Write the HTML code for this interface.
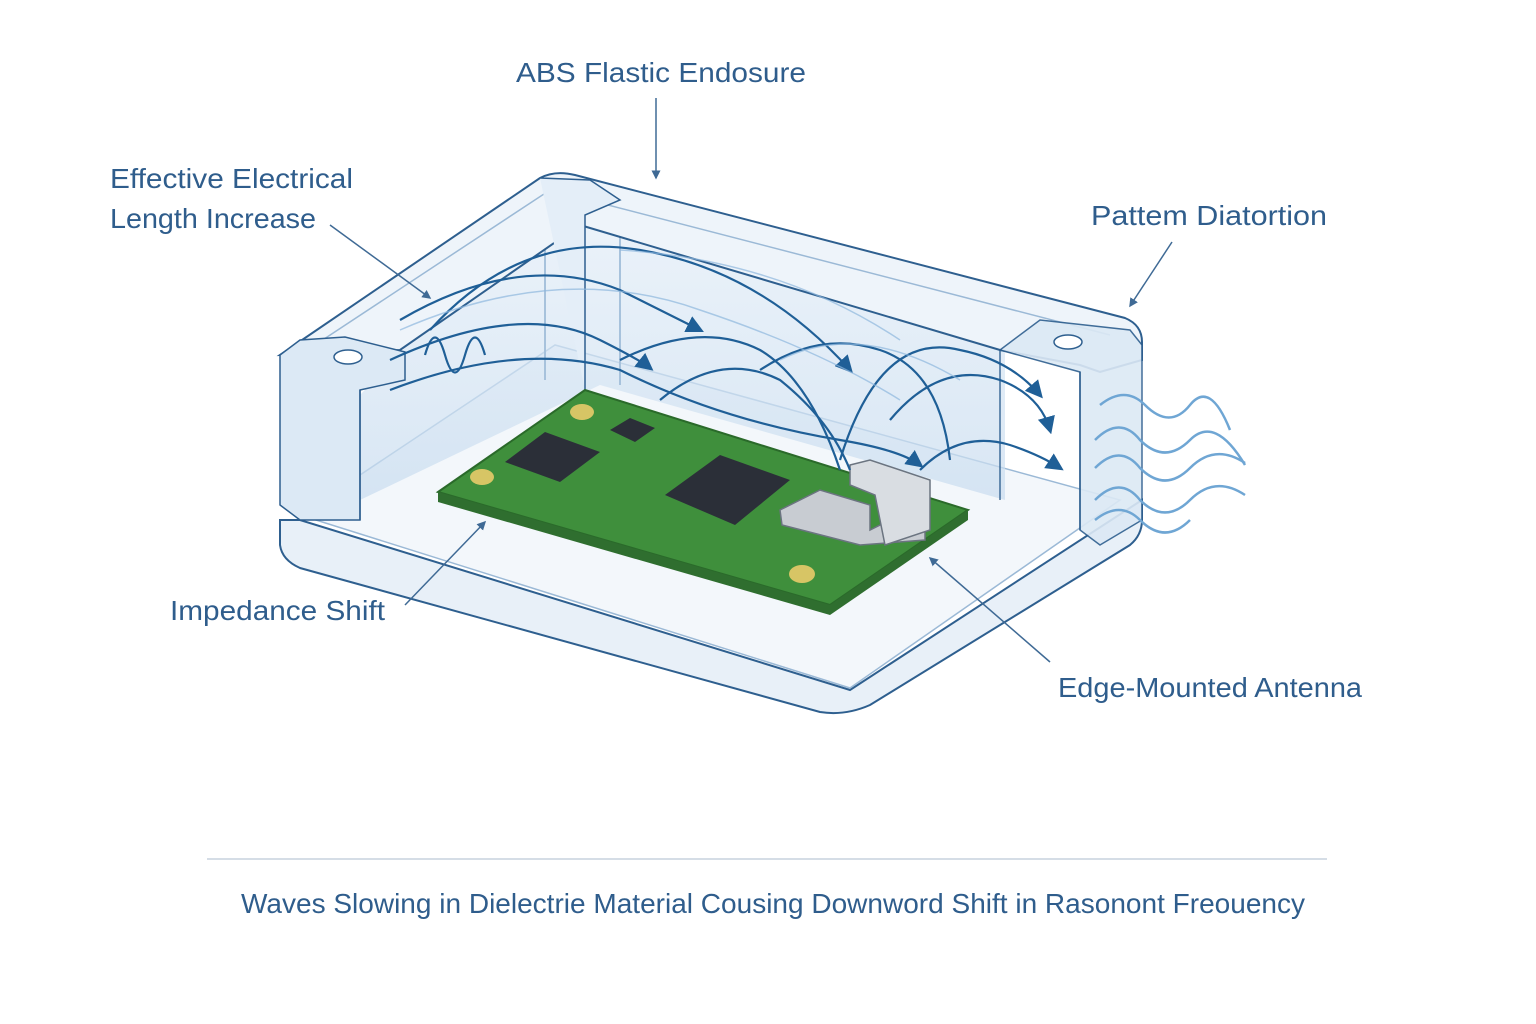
<!DOCTYPE html>
<html><head><meta charset="utf-8"><style>
html,body{margin:0;padding:0;background:#fff;}
svg{display:block}
text{font-family:"Liberation Sans","DejaVu Sans",sans-serif;fill:#2f5d8c;}
</style></head><body>
<svg width="1536" height="1024" viewBox="0 0 1536 1024" xmlns="http://www.w3.org/2000/svg">
<defs>
<linearGradient id="wall" x1="0" y1="0" x2="0" y2="1"><stop offset="0" stop-color="#e4eef8"/><stop offset="1" stop-color="#c8dcef"/></linearGradient>
<marker id="ah" markerWidth="8" markerHeight="8" refX="6" refY="4" orient="auto" markerUnits="strokeWidth"><path d="M0,0 L8,4 L0,8 z" fill="#1f5f97"/></marker>
<marker id="ah2" markerWidth="6" markerHeight="6" refX="5" refY="3" orient="auto" markerUnits="strokeWidth"><path d="M0,0 L6,3 L0,6 z" fill="#3f6a95"/></marker>
</defs>
<path d="M280,520 L280,545 Q282,560 300,568 L820,712 Q845,716 870,705 L1130,545 Q1142,535 1142,520 L1142,500 L850,690 L300,520 Z" fill="#e8f0f8" stroke="#2e5f8f" stroke-width="2"/>
<path d="M300,515 L555,345 L1120,500 L850,688 Z" fill="#f3f7fb" stroke="#9bb9d6" stroke-width="1.5"/>
<path d="M360,395 L545,200 L1005,335 L1005,500 L600,385 L360,500 Z" fill="url(#wall)" opacity="0.7"/>
<path d="M545,200 L545,380" stroke="#a7c2dc" stroke-width="2"/>
<path d="M620,200 L620,385" stroke="#a7c2dc" stroke-width="2"/>
<path d="M280,355 L540,178 Q555,170 575,175 L1125,318 Q1142,325 1142,342 L1142,360 L1100,372 L1080,365 L1000,350 L580,225 L400,350 L360,352 Z" fill="#eef4fa" stroke="#2e5f8f" stroke-width="2"/>
<path d="M315,345 L550,190 L1110,335" fill="none" stroke="#9bb9d6" stroke-width="1.5"/>
<path d="M280,355 L300,340 L345,337 L405,352 L405,380 L360,390 L360,520 L300,520 L280,505 Z" fill="#dce9f5" stroke="#2e5f8f" stroke-width="1.5"/>
<ellipse cx="348" cy="357" rx="14" ry="7" fill="#fff" stroke="#2e5f8f" stroke-width="1.5"/>
<line x1="360" y1="390" x2="360" y2="520" stroke="#2e5f8f" stroke-width="1.5"/>
<path d="M540,178 L590,180 L620,200 L585,215 L585,390" fill="#e4eef8" stroke="#2e5f8f" stroke-width="1.5"/>
<path d="M1000,350 L1040,320 L1130,330 L1142,345 L1142,520 L1100,545 L1080,530 L1080,372 L1000,350 L1000,500" fill="#dce9f5" stroke="#2e5f8f" stroke-width="1.5" opacity="0.9"/>
<ellipse cx="1068" cy="342" rx="14" ry="7" fill="#fff" stroke="#2e5f8f" stroke-width="1.5"/>
<line x1="1080" y1="372" x2="1080" y2="530" stroke="#2e5f8f" stroke-width="1.5"/>
<path d="M438,492 L585,390 L968,510 L830,605 Z" fill="#3f8f3c" stroke="#2a6a2a" stroke-width="2"/>
<path d="M438,492 L438,502 L830,615 L968,520 L968,510 L830,605 Z" fill="#2f6e2f"/>
<path d="M505,462 L545,432 L600,452 L560,482 Z" fill="#2b2f38"/>
<path d="M665,495 L720,455 L790,480 L735,525 Z" fill="#2b2f38"/>
<path d="M610,430 L630,418 L655,428 L635,442 Z" fill="#2b2f38"/>
<ellipse cx="582" cy="412" rx="12" ry="8" fill="#d7c565"/>
<ellipse cx="482" cy="477" rx="12" ry="8" fill="#d7c565"/>
<ellipse cx="802" cy="574" rx="13" ry="9" fill="#d7c565"/>
<path d="M780,510 L820,490 L870,505 L870,530 L900,515 L925,520 L925,540 L860,545 L782,525 Z" fill="#c8ccd2" stroke="#6b7480" stroke-width="1.5"/>
<path d="M850,465 L870,460 L930,480 L930,530 L885,545 L875,495 L850,485 Z" fill="#d9dde2" stroke="#6b7480" stroke-width="1.5"/>
<g fill="none" stroke="#1f5f97" stroke-width="2.2">
<path d="M400,320 Q520,250 620,290 Q660,310 700,330" marker-end="url(#ah)"/>
<path d="M390,360 Q520,300 600,340 Q640,360 650,368" marker-end="url(#ah)"/>
<path d="M390,390 Q520,340 620,370 Q720,420 840,440 Q900,450 920,465" marker-end="url(#ah)"/>
<path d="M430,330 Q520,230 640,250 Q760,270 850,370" marker-end="url(#ah)"/>
<path d="M620,360 Q700,320 760,350 Q810,380 840,470" />
<path d="M660,400 Q720,350 780,380 Q830,420 850,470"/>
<path d="M760,370 Q820,330 880,350 Q940,370 950,460"/>
<path d="M840,460 Q880,330 960,350 Q1010,360 1040,395" marker-end="url(#ah)"/>
<path d="M890,420 Q940,360 1000,380 Q1040,395 1050,430" marker-end="url(#ah)"/>
<path d="M920,470 Q960,430 1010,445 Q1040,455 1060,468" marker-end="url(#ah)"/>
<path d="M425,355 q10,-35 20,0 q10,35 20,0 q10,-35 20,0"/>
</g>
<g fill="none" stroke="#8fb8de" stroke-width="1.5" opacity="0.7">
<path d="M400,330 Q560,260 700,310 Q820,350 900,400"/>
<path d="M620,250 Q780,260 900,340"/>
<path d="M780,360 Q860,320 960,380"/>
</g>
<g fill="none" stroke="#6fa6d4" stroke-width="2.5">
<path d="M1100,405 q25,-20 45,0 q25,25 45,0 q20,-25 40,25"/>
<path d="M1095,440 q25,-25 45,0 q25,25 50,0 q25,-25 55,25"/>
<path d="M1095,468 q25,-25 45,0 q25,25 50,0 q25,-25 55,-5"/>
<path d="M1095,500 q25,-25 45,0 q25,25 50,0 q25,-25 55,-5"/>
<path d="M1095,520 q25,-20 45,0 q25,25 50,0"/>
</g>
<g stroke="#3f6a95" stroke-width="1.5" fill="none">
<path d="M656,98 L656,178" marker-end="url(#ah2)"/>
<path d="M330,225 L430,298" marker-end="url(#ah2)"/>
<path d="M1172,242 L1130,306" marker-end="url(#ah2)"/>
<path d="M405,605 L485,522" marker-end="url(#ah2)"/>
<path d="M1050,662 L930,558" marker-end="url(#ah2)"/>
</g>
<text x="516" y="82" font-size="28" textLength="290" lengthAdjust="spacingAndGlyphs">ABS Flastic Endosure</text>
<text x="110" y="188" font-size="28" textLength="243" lengthAdjust="spacingAndGlyphs">Effective Electrical</text>
<text x="110" y="228" font-size="28" textLength="206" lengthAdjust="spacingAndGlyphs">Length Increase</text>
<text x="1091" y="225" font-size="28" textLength="236" lengthAdjust="spacingAndGlyphs">Pattem Diatortion</text>
<text x="170" y="620" font-size="28" textLength="215" lengthAdjust="spacingAndGlyphs">Impedance Shift</text>
<text x="1058" y="697" font-size="28" textLength="304" lengthAdjust="spacingAndGlyphs">Edge-Mounted Antenna</text>
<line x1="207" y1="859" x2="1327" y2="859" stroke="#d5dde6" stroke-width="2"/>
<text x="241" y="913" font-size="27.5" textLength="1064" lengthAdjust="spacingAndGlyphs">Waves Slowing in Dielectrie Material Cousing Downword Shift in Rasonont Freouency</text>
</svg>
</body></html>
